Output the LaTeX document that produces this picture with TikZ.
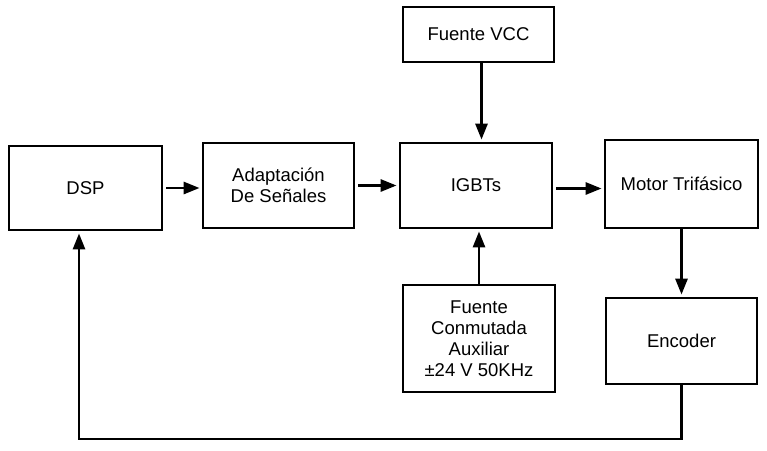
\documentclass[tikz,border=0pt]{standalone}
\usepackage{fontspec}
\setmainfont{Liberation Sans}
\usetikzlibrary{arrows.meta}
\begin{document}
\begin{tikzpicture}[x=1pt,y=-1pt,
  blk/.style={draw=black,line width=2.8pt,fill=white,inner sep=0pt,align=center,
    font=\fontsize{18.5}{21}\selectfont},
  arr/.style={line width=2.8pt,-{Triangle[length=16pt,width=12pt]},shorten >=2pt}]
\useasboundingbox[fill=white] (0,0) rectangle (767,450);
\node[blk,minimum width=153pt,minimum height=84pt] (dsp) at (85.5,188) {DSP};
\node[blk,minimum width=151pt,minimum height=85pt] (adapt) at (278.5,185.5) {Adaptación\\De Señales};
\node[blk,minimum width=152pt,minimum height=85pt] (igbt) at (476,185.5) {IGBTs};
\node[blk,minimum width=151pt,minimum height=55pt] (vcc) at (478.5,34.5) {Fuente VCC};
\node[blk,minimum width=153pt,minimum height=88pt] (motor) at (681.5,184) {Motor Trifásico};
\node[blk,minimum width=152pt,minimum height=107pt] (aux) at (479,338.5) {Fuente\\Conmutada\\Auxiliar\\±24 V 50KHz};
\node[blk,minimum width=151pt,minimum height=86pt] (enc) at (681.5,341) {Encoder};
\coordinate (fb) at (79,439);
\draw[arr,shorten <=3pt] (dsp.east) -- (dsp.east -| adapt.west);
\draw[arr,shorten <=3pt] (adapt.east) -- (adapt.east -| igbt.west);
\draw[arr,shorten <=3pt] ([yshift=-3pt]igbt.east) -- ([yshift=-3pt]igbt.east -| motor.west);
\draw[arr] ([xshift=3pt]vcc.south) -- ([xshift=3pt]vcc.south |- igbt.north);
\draw[arr] (aux.north) -- (aux.north |- igbt.south);
\draw[arr] (motor.south) -- (motor.south |- enc.north);
\draw[arr,line join=miter] (enc.south) -- (enc.south |- fb) -- (fb) -- (fb |- dsp.south);
\end{tikzpicture}
\end{document}
